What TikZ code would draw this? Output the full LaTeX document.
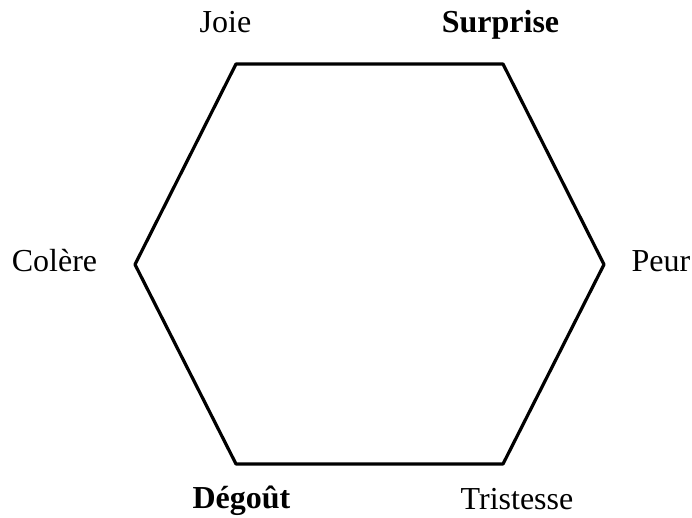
\documentclass[tikz,border=0pt]{standalone}
\usepackage{fontspec}
\setmainfont{Liberation Serif}
\usepackage{tikz}
\usepackage{tkz-euclide}

\tikzset{emotion/.style={anchor=base, inner sep=0pt, font=\fontsize{32}{38}\selectfont}}

\begin{document}
\begin{tikzpicture}[x=1pt, y=1pt]
    \useasboundingbox (0,0) rectangle (692,518);
    \tkzDefPoint(236,454){J}
    \tkzDefPoint(503,454){S}
    \tkzDefPoint(604,253.5){P}
    \tkzDefPoint(503,54){T}
    \tkzDefPoint(236,54){D}
    \tkzDefPoint(135,253.5){C}
    \tkzDrawPolygon[line width=3.2pt, black](J,S,P,T,D,C)
    \node[emotion] (joie) at (225.5,485) {Joie};
    \node[emotion] (surprise) at (500.5,485) {\textbf{Surprise}};
    \node[emotion] (peur) at (661,246) {Peur};
    \node[emotion] (tristesse) at (517,8) {Tristesse};
    \node[emotion] (degout) at (241.5,9) {\textbf{Dégoût}};
    \node[emotion] (colere) at (54.5,246) {Colère};
\end{tikzpicture}
\end{document}
